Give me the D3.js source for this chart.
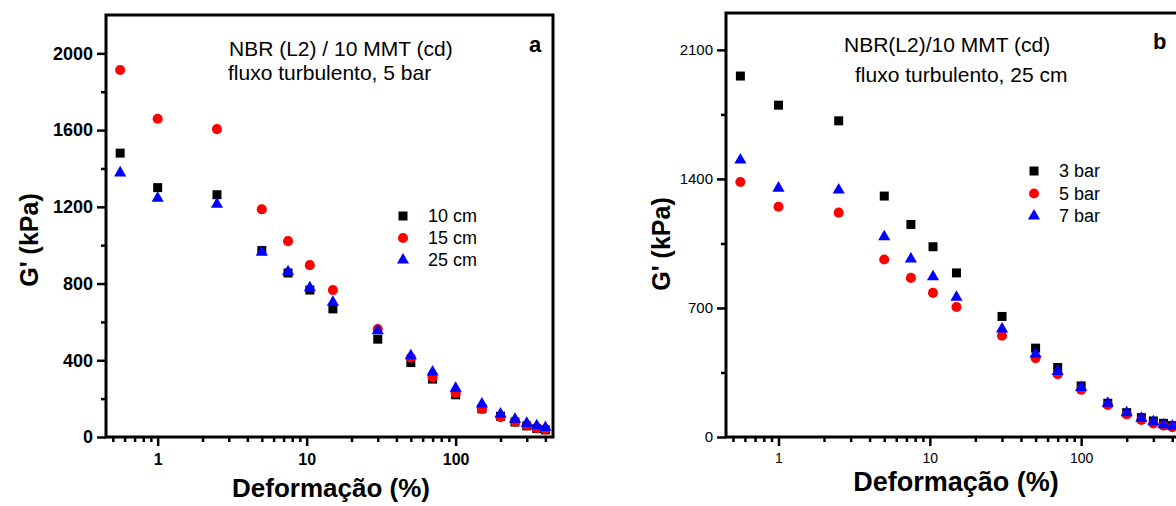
<!DOCTYPE html>
<html lang="pt">
<head>
<meta charset="UTF-8">
<title>G' vs deformação</title>
<script src="https://cdn.jsdelivr.net/npm/d3@7"></script>
<style>
body { margin: 0; background: #fff; }
svg text { font-family: "Liberation Sans", Arial, sans-serif; fill: #000; }
.frame { fill: none; stroke: #000; stroke-width: 3; }
.tick line { stroke: #000; stroke-width: 2.5; }
</style>
</head>
<body>
<div id="chart"></div>
<script>
// strain values (%) shared by both panels
var strain = [0.56, 1, 2.5, 5, 7.5, 10.5, 15, 30, 50, 70, 100, 150, 200, 250, 300, 350, 400];

// panel a: 5 bar, distance
var a10cm = [1480, 1300, 1263, 972, 855, 766, 668, 510, 388, 302, 220, 147, 108, 78, 58, 44, 37];
var a15cm = [1913, 1659, 1605, 1187, 1021, 896, 766, 563, 413, 311, 228, 146, 103, 80, 60, 46, 39];
var a25cm = [1377, 1245, 1213, 963, 862, 778, 702, 554, 424, 339, 254, 172, 120, 92, 71, 59, 50];
var aLabels = ["10 cm", "15 cm", "25 cm"];

// panel b: 25 cm, pressure
var b3bar = [1958, 1800, 1715, 1307, 1153, 1032, 890, 654, 482, 377, 277, 183, 132, 105, 87, 74, 62];
var b5bar = [1383, 1249, 1217, 963, 863, 782, 705, 549, 428, 341, 256, 174, 123, 92, 74, 62, 53];
var b7bar = [1503, 1350, 1340, 1086, 966, 869, 758, 586, 450, 355, 268, 183, 132, 102, 83, 67, 60];
var bLabels = ["3 bar", "5 bar", "7 bar"];

var xMajor = [1, 10, 100];
var xMinor = [0.5, 0.6, 0.7, 0.8, 0.9, 2, 3, 4, 5, 6, 7, 8, 9, 20, 30, 40, 50, 60, 70, 80, 90, 200, 300, 400];

var colors = ["#000000", "#ff0000", "#0000ff"];
var shapes = [d3.symbolSquare, d3.symbolCircle, d3.symbolTriangle];
var sizes = [81, 80, 64];

var width = 1176, height = 506;
var svg = d3.select("#chart").append("svg")
  .attr("width", width)
  .attr("height", height);

function drawPanel(p) {
  var x = d3.scaleLog().domain([0.45, 450]).range([p.left, p.right]);
  var y = d3.scaleLinear().domain([0, p.yMax]).range([p.bottom, p.top]);
  var g = svg.append("g");

  // minor ticks
  g.append("g")
    .attr("transform", "translate(0," + p.bottom + ")")
    .call(d3.axisBottom(x).tickValues(xMinor).tickSize(5).tickFormat(""))
    .call(function(s) { s.select(".domain").remove(); });
  g.append("g")
    .attr("transform", "translate(" + p.left + ",0)")
    .call(d3.axisLeft(y).tickValues(p.yMinor).tickSize(5).tickFormat(""))
    .call(function(s) { s.select(".domain").remove(); });

  // major ticks
  var xa = g.append("g")
    .attr("transform", "translate(0," + p.bottom + ")")
    .call(d3.axisBottom(x).tickValues(xMajor).tickSize(9).tickPadding(p.xPad)
      .tickFormat(d3.format("d")));
  xa.select(".domain").remove();
  xa.selectAll("text")
    .style("font-size", p.tickFont + "px")
    .style("font-weight", p.tickBold ? "bold" : "normal");

  var ya = g.append("g")
    .attr("transform", "translate(" + p.left + ",0)")
    .call(d3.axisLeft(y).tickValues(p.yMajor).tickSize(9).tickPadding(4)
      .tickFormat(d3.format("d")));
  ya.select(".domain").remove();
  ya.selectAll("text")
    .style("font-size", p.yTickFont + "px")
    .style("font-weight", p.tickBold ? "bold" : "normal");

  // frame
  g.append("rect")
    .attr("class", "frame")
    .attr("x", p.left)
    .attr("y", p.top)
    .attr("width", p.right - p.left)
    .attr("height", p.bottom - p.top);

  // points
  p.series.forEach(function(vals, i) {
    g.append("g").selectAll("path")
      .data(vals)
      .enter()
      .append("path")
      .attr("d", d3.symbol().type(shapes[i]).size(sizes[i]))
      .attr("fill", colors[i])
      .attr("transform", function(d, j) {
        return "translate(" + x(strain[j]) + "," + y(d) + ")";
      });
  });

  // legend
  p.labels.forEach(function(lab, i) {
    var ly = p.legY + i * p.legStep;
    g.append("path")
      .attr("d", d3.symbol().type(shapes[i]).size(sizes[i]))
      .attr("fill", colors[i])
      .attr("transform", "translate(" + p.legX + "," + ly + ")");
    g.append("text")
      .attr("x", p.legX + 25)
      .attr("y", ly + 6)
      .style("font-size", "18px")
      .text(lab);
  });

  // annotations
  g.append("text")
    .attr("x", p.t1x).attr("y", p.t1y)
    .style("font-size", "21px")
    .text(p.title1);
  g.append("text")
    .attr("x", p.t2x).attr("y", p.t2y)
    .style("font-size", "21px")
    .text(p.title2);
  g.append("text")
    .attr("x", p.tagX).attr("y", p.tagY)
    .style("font-size", "22px")
    .style("font-weight", "bold")
    .text(p.tag);

  // axis titles
  g.append("text")
    .attr("x", p.xTitleX).attr("y", p.xTitleY)
    .attr("text-anchor", "middle")
    .style("font-size", p.xTitleFont + "px")
    .style("font-weight", "bold")
    .text("Deformação (%)");
  g.append("text")
    .attr("transform", "translate(" + p.yTitleX + "," + p.yTitleY + ") rotate(-90)")
    .attr("text-anchor", "middle")
    .style("font-size", "25px")
    .style("font-weight", "bold")
    .text("G' (kPa)");
}

drawPanel({
  left: 106, right: 553, top: 15, bottom: 437, yMax: 2200,
  yMajor: [0, 400, 800, 1200, 1600, 2000], yMinor: [200, 600, 1000, 1400, 1800],
  tickFont: 16, yTickFont: 18, tickBold: true, xPad: 8,
  series: [a10cm, a15cm, a25cm], labels: aLabels,
  legX: 403, legY: 216, legStep: 22,
  title1: "NBR (L2) / 10 MMT (cd)", t1x: 229, t1y: 56,
  title2: "fluxo turbulento, 5 bar", t2x: 228, t2y: 80,
  tag: "a", tagX: 529, tagY: 52,
  xTitleX: 331, xTitleY: 497, xTitleFont: 26, yTitleX: 38, yTitleY: 240
});

drawPanel({
  left: 726, right: 1180, top: 13, bottom: 437, yMax: 2300,
  yMajor: [0, 700, 1400, 2100], yMinor: [350, 1050, 1750],
  tickFont: 14, yTickFont: 15, tickBold: false, xPad: 7,
  series: [b3bar, b5bar, b7bar], labels: bLabels,
  legX: 1034, legY: 171, legStep: 22.5,
  title1: "NBR(L2)/10 MMT (cd)", t1x: 844, t1y: 52,
  title2: "fluxo turbulento, 25 cm", t2x: 855, t2y: 82,
  tag: "b", tagX: 1153, tagY: 49,
  xTitleX: 956, xTitleY: 491, xTitleFont: 27, yTitleX: 670, yTitleY: 244
});
</script>
</body>
</html>
